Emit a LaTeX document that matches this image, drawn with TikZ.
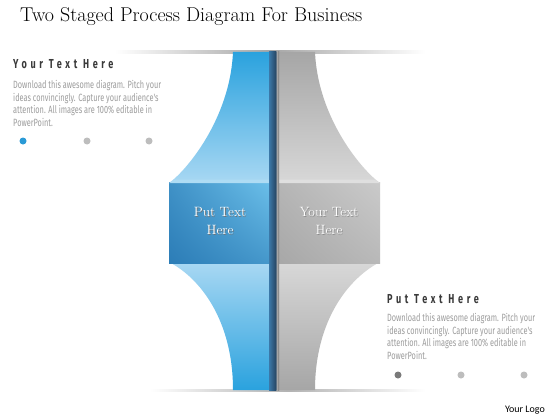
\documentclass[tikz,border=0pt]{standalone}
\usepackage{fontspec}
\newfontfamily\headfont[FakeStretch=0.7,LetterSpace=28]{Fira Sans}
\newfontfamily\condfont[FakeStretch=0.7]{Fira Sans}
\newfontfamily\logofont{Carlito}
\usetikzlibrary{positioning,shadings}

\definecolor{bandblue}{HTML}{2AA2DE}
\definecolor{paleblue}{HTML}{A9D8F3}
\definecolor{boxblueA}{HTML}{2C7DB7}
\definecolor{boxblueB}{HTML}{6CC0EA}
\definecolor{bandgray}{HTML}{A6A6A6}
\definecolor{palegray}{HTML}{D8D8D8}
\definecolor{boxgrayA}{HTML}{A7A7A7}
\definecolor{boxgrayB}{HTML}{CACACA}
\definecolor{dividerA}{HTML}{3B78A8}
\definecolor{dividerB}{HTML}{24425E}
\definecolor{bodygray}{HTML}{9C9C9C}
\definecolor{headgray}{HTML}{3A3A3A}
\definecolor{dotblue}{HTML}{2A9AD6}
\definecolor{dotgray}{HTML}{BDBDBD}
\definecolor{dotdark}{HTML}{7A7A7A}

\tikzset{
  heading/.style={anchor=north west, inner sep=0pt, text=headgray,
    font=\headfont\bfseries\fontsize{13}{13}\selectfont},
  body/.style={anchor=north west, inner sep=0pt, text=bodygray, align=left,
    font=\condfont\fontsize{10.5}{12.7}\selectfont},
  boxtext/.style={align=center, inner sep=0pt, font=\fontsize{13.5}{18}\selectfont},
  dot/.style={circle, inner sep=0pt, minimum size=7pt},
}

\begin{document}
\begin{tikzpicture}[x=1pt, y=-1pt]
  \useasboundingbox (0,0) rectangle (560,420);
  \fill[white] (0,0) rectangle (560,420);

  % title
  \node[anchor=base west, inner sep=0pt, font=\fontsize{20}{20}\selectfont] (title) at (20,22)
    {Two Staged Process Diagram For Business};

  % floor lines
  \shade[left color=white, right color=white, middle color=black!35] (115,51) rectangle (425,53.5);
  \shade[left color=white, right color=white, middle color=black!30] (150,389) rectangle (425,391.5);

  % upper bands
  \shade[top color=bandblue, middle color=bandblue, bottom color=paleblue]
    (233,52) .. controls (230,120) and (185,172) .. (169,183) -- (272,183) -- (272,52) -- cycle;
  \shade[top color=bandgray, middle color=bandgray, bottom color=palegray]
    (315,52) .. controls (318,120) and (364,172) .. (380,183) -- (276,183) -- (276,52) -- cycle;

  % lower bands
  \shade[top color=paleblue, middle color=bandblue, bottom color=bandblue]
    (169,262) .. controls (200,278) and (233,320) .. (233,390) -- (272,390) -- (272,262) -- cycle;
  \shade[top color=palegray, middle color=bandgray, bottom color=bandgray]
    (380,262) .. controls (349,278) and (315,320) .. (315,390) -- (276,390) -- (276,262) -- cycle;

  % boxes
  \shade[lower left=boxblueA, upper left=boxblueA!70!boxblueB, lower right=boxblueA!60!boxblueB,
    upper right=boxblueB] (169,182) rectangle (272,263);
  \shade[lower left=boxgrayA, upper left=boxgrayA!60!boxgrayB, lower right=boxgrayA!50!boxgrayB,
    upper right=boxgrayB] (276,182) rectangle (380,263);
  \fill[boxblueB!55!white] (169,183) -- (175,179.5) -- (272,179.5) -- (272,183) -- cycle;
  \fill[boxgrayB!60!white] (380,183) -- (374,179.5) -- (276,179.5) -- (276,183) -- cycle;

  % divider
  \shade[left color=dividerA, right color=dividerB] (269,52) rectangle (276.5,390);
  \shade[left color=black!30, right color=black!30!bandgray] (276.5,52) rectangle (279,390);

  % box labels
  \node[boxtext, text=black!55] (putshadow) at (220.8,221.8) {Put Text\\Here};
  \node[boxtext, text=white] (puttext) at (220,221) {Put Text\\Here};
  \node[boxtext, text=black!45] (yourshadow) at (329.8,221.8) {Your Text\\Here};
  \node[boxtext, text=white] (yourtext) at (329,221) {Your Text\\Here};

  % left text block
  \node[heading] (lefthead) at (13,59.5) {Your Text Here};
  \node[body] (leftbody) at (13,80) {Download this awesome diagram. Pitch your\\
    ideas convincingly. Capture your audience's\\
    attention. All images are 100\% editable in\\
    PowerPoint.};
  \foreach \x/\c in {23/dotblue, 87/dotgray, 149/dotgray}
    \node[dot, fill=\c] (ldot\x) at (\x,141) {};

  % right text block
  \node[heading] (righthead) at (387,294) {Put Text Here};
  \node[body] (rightbody) at (387,313) {Download this awesome diagram. Pitch your\\
    ideas convincingly. Capture your audience's\\
    attention. All images are 100\% editable in\\
    PowerPoint.};
  \foreach \x/\c in {398/dotdark, 461/dotgray, 524/dotgray}
    \node[dot, fill=\c] (rdot\x) at (\x,375) {};

  \node[anchor=base east, inner sep=0pt, font=\logofont\fontsize{10}{10}\selectfont] (logo)
    at (545,412) {Your Logo};
\end{tikzpicture}
\end{document}
